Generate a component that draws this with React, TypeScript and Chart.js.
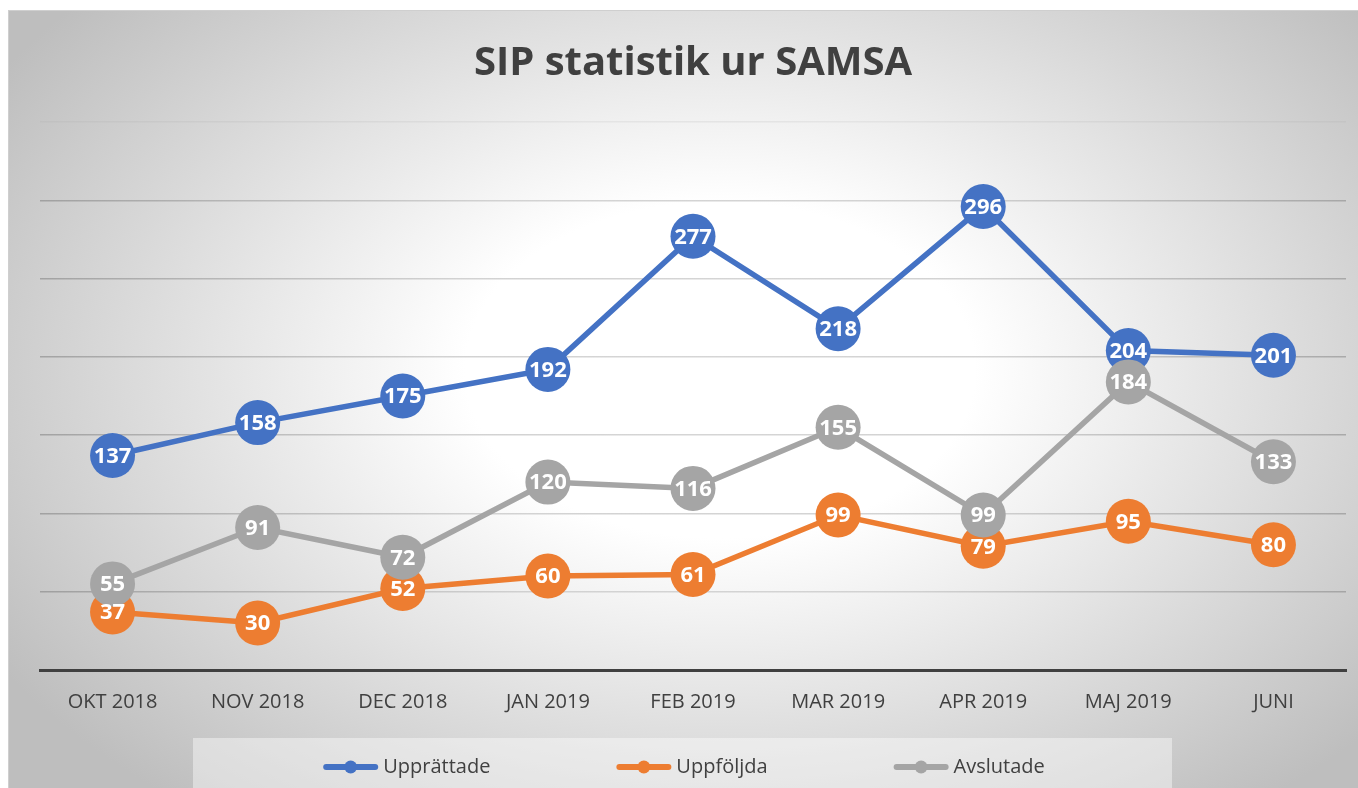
import React, { useEffect, useRef } from 'react';
import { Chart, registerables } from 'chart.js';

Chart.register(...registerables);

const months = ['OKT 2018', 'NOV 2018', 'DEC 2018', 'JAN 2019', 'FEB 2019', 'MAR 2019', 'APR 2019', 'MAJ 2019', 'JUNI'];
const upprattade = [137, 158, 175, 192, 277, 218, 296, 204, 201];
const uppfoljda = [37, 30, 52, 60, 61, 99, 79, 95, 80];
const avslutade = [55, 91, 72, 120, 116, 155, 99, 184, 133];
const seriesNames = ['Upprättade', 'Uppföljda', 'Avslutade'];
const seriesColors = ['#4472C4', '#ED7D31', '#A5A5A5'];
const titleText = 'SIP statistik ur SAMSA';
const yMin = 0;
const yMax = 350;
const yStep = 50;

const FONT = '"Open Sans", "Noto Sans", sans-serif';
const W = 1358;
const H = 788;
const GRAD_CX = 720;
const GRAD_CY = 370;

const backgroundPlugin = {
  id: 'bgPlugin',
  beforeDraw(chart: any) {
    const ctx = chart.ctx;
    const w = chart.width;
    const h = chart.height;
    ctx.save();
    ctx.fillStyle = '#ffffff';
    ctx.fillRect(0, 0, w, h);
    ctx.save();
    ctx.beginPath();
    ctx.rect(8, 10, w - 8, h - 10);
    ctx.clip();
    const rx = 850;
    const ry = 560;
    ctx.translate(GRAD_CX, GRAD_CY);
    ctx.scale(1, ry / rx);
    const g = ctx.createRadialGradient(0, 0, 0, 0, 0, rx);
    g.addColorStop(0, '#ffffff');
    g.addColorStop(0.3, '#ffffff');
    g.addColorStop(1, '#bebebe');
    ctx.fillStyle = g;
    ctx.fillRect(-rx * 2, -rx * 2, rx * 4, rx * 4);
    ctx.restore();
    ctx.strokeStyle = '#cfcfcf';
    ctx.lineWidth = 1;
    ctx.beginPath();
    ctx.moveTo(8, 10.5);
    ctx.lineTo(w, 10.5);
    ctx.moveTo(8.5, 10);
    ctx.lineTo(8.5, h);
    ctx.stroke();
    ctx.fillStyle = 'rgba(255,255,255,0.42)';
    ctx.fillRect(193, 738, 979, h - 738);
    ctx.restore();
  },
};

const dataLabelPlugin = {
  id: 'dataLabels',
  afterDatasetsDraw(chart: any) {
    const ctx = chart.ctx;
    ctx.save();
    ctx.font = `bold 22px ${FONT}`;
    ctx.fillStyle = '#ffffff';
    ctx.textAlign = 'center';
    ctx.textBaseline = 'middle';
    [0, 1, 2].forEach((i) => {
      const ds = chart.data.datasets[i];
      const meta = chart.getDatasetMeta(i);
      meta.data.forEach((pt: any, j: number) => {
        ctx.fillText(String(ds.data[j]), pt.x, pt.y + 1);
      });
    });
    ctx.restore();
  },
};

const legendPlugin = {
  id: 'customLegend',
  afterDraw(chart: any) {
    const ctx = chart.ctx;
    ctx.save();
    ctx.font = `20px ${FONT}`;
    ctx.textBaseline = 'middle';
    ctx.textAlign = 'left';
    const markW = 55;
    const textGap = 5;
    const gap = 126;
    const widths = seriesNames.map((n) => ctx.measureText(n).width);
    const total = widths.reduce((a, b) => a + b + markW + textGap, 0) + gap * (seriesNames.length - 1);
    const cy = 767;
    let x = 684 - total / 2;
    seriesNames.forEach((name, i) => {
      const c = seriesColors[i];
      ctx.strokeStyle = c;
      ctx.lineWidth = 6;
      ctx.lineCap = 'round';
      ctx.beginPath();
      ctx.moveTo(x + 3, cy);
      ctx.lineTo(x + markW - 3, cy);
      ctx.stroke();
      ctx.fillStyle = c;
      ctx.beginPath();
      ctx.arc(x + markW / 2, cy, 6.5, 0, Math.PI * 2);
      ctx.fill();
      ctx.fillStyle = '#404040';
      ctx.fillText(name, x + markW + textGap, cy);
      x += markW + textGap + widths[i] + gap;
    });
    ctx.restore();
  },
};

function gridGradient(c: any, top: boolean) {
  const g = c.createRadialGradient(GRAD_CX, GRAD_CY, 0, GRAD_CX, GRAD_CY, 800);
  if (top) {
    g.addColorStop(0, '#e6e6e6');
    g.addColorStop(0.35, '#e4e4e4');
    g.addColorStop(1, '#bababa');
  } else {
    g.addColorStop(0, '#d6d6d6');
    g.addColorStop(0.35, '#d2d2d2');
    g.addColorStop(1, '#959595');
  }
  return g;
}

export default function App() {
  const ref = useRef<HTMLCanvasElement | null>(null);
  useEffect(() => {
    if (!ref.current) return;
    const mk = (label: string, data: number[], color: string, order: number) => ({
      label,
      data,
      borderColor: color,
      backgroundColor: color,
      borderWidth: 5.5,
      pointRadius: 22.5,
      pointHoverRadius: 22.5,
      pointBackgroundColor: color,
      pointBorderColor: color,
      pointBorderWidth: 0,
      tension: 0,
      order,
    });
    const chart = new Chart(ref.current, {
      type: 'line',
      data: {
        labels: months,
        datasets: [
          mk(seriesNames[0], upprattade, seriesColors[0], 2),
          mk(seriesNames[1], uppfoljda, seriesColors[1], 1),
          mk(seriesNames[2], avslutade, seriesColors[2], 0),
        ],
      },
      options: {
        responsive: false,
        animation: false,
        events: [],
        layout: { autoPadding: false, padding: { left: 40, right: 12, top: 0, bottom: 0 } },
        plugins: {
          legend: { display: false },
          tooltip: { enabled: false },
          title: {
            display: true,
            text: titleText,
            color: '#404040',
            font: { family: FONT, size: 40, weight: 'bold', lineHeight: 1.2 },
            padding: { top: 40, bottom: 34 },
          },
        },
        scales: {
          x: {
            offset: true,
            grid: { display: false, drawTicks: false },
            border: { display: true, color: '#404040', width: 3 },
            ticks: {
              color: '#404040',
              font: { family: FONT, size: 20 },
              padding: 20,
              maxRotation: 0,
              autoSkip: false,
            },
            afterFit: (s: any) => {
              s.height = 118;
              s.paddingLeft = 0;
              s.paddingRight = 0;
            },
          },
          y: {
            min: yMin,
            max: yMax,
            ticks: { display: false, stepSize: yStep },
            border: { display: false },
            grid: {
              drawTicks: false,
              lineWidth: 1.5,
              color: (c: any) => gridGradient(c.chart.ctx, c.tick && c.tick.value === yMax),
            },
            afterFit: (s: any) => {
              s.width = 0;
              s.paddingTop = 0;
              s.paddingBottom = 0;
            },
          },
        },
      },
      plugins: [backgroundPlugin, dataLabelPlugin, legendPlugin],
    } as any);
    return () => chart.destroy();
  }, []);
  return (
    <div style={{ position: 'fixed', left: 0, top: 0, width: W, height: H }}>
      <canvas ref={ref} width={W} height={H} style={{ display: 'block' }} />
    </div>
  );
}
